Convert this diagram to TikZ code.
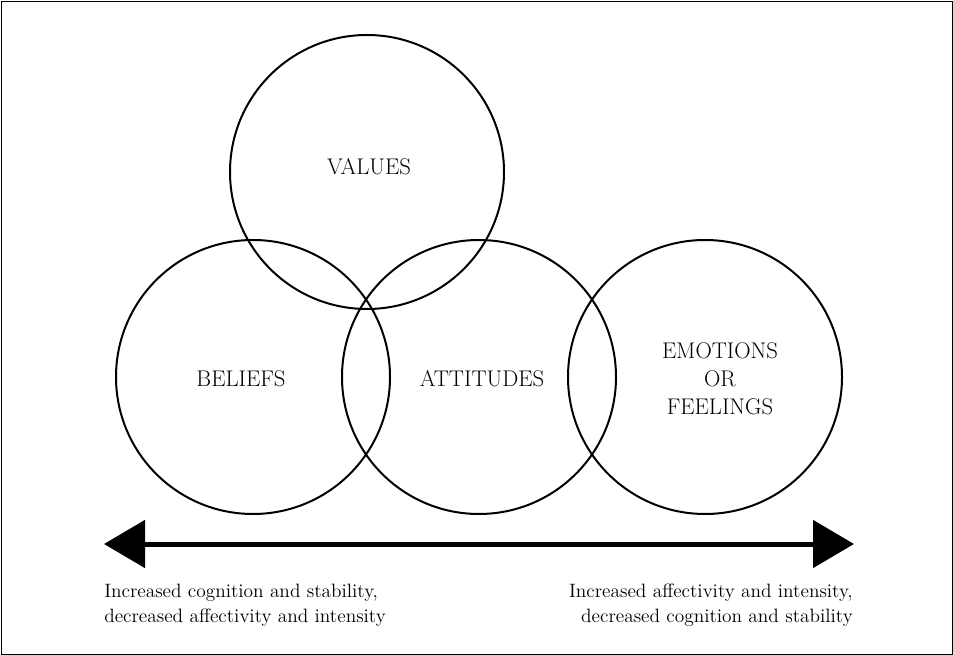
\documentclass[tikz,border=0pt]{standalone}
\usetikzlibrary{arrows.meta}
\tikzset{
  ring/.style={line width=1.5pt},
  caption/.style={font=\fontsize{17}{21}\selectfont, inner sep=0pt},
  note/.style={font=\fontsize{14.5}{18.75}\selectfont, inner sep=0pt},
  bigtip/.style={line width=3.75pt, {Triangle[length=30.75pt,width=35.25pt]}-{Triangle[length=30.75pt,width=35.25pt]}},
}
\begin{document}
\begin{tikzpicture}[x=0.75pt,y=-0.75pt]
  \useasboundingbox (0,0) rectangle (953,655);
  \draw [thin] (1,1) rectangle (952,654);
  % four overlapping sets
  \foreach \cx/\cy in {367/172, 253/377, 479/377, 705/377}
    \draw [ring] (\cx,\cy) circle[radius=102.75pt];
  \node [caption] (values) at (369,167) {VALUES};
  \node [caption] (beliefs) at (241,379) {BELIEFS};
  \node [caption] (attitudes) at (482,379) {ATTITUDES};
  \node [caption, align=center] (emotions) at (720,379) {EMOTIONS\\OR\\FEELINGS};
  % the scale underneath
  \coordinate (cog) at (104,544);
  \coordinate (aff) at (854,544);
  \draw [bigtip] (cog) -- (aff);
  \node [note, anchor=north west, align=left] (left) at (104,584)
    {Increased cognition and stability,\\decreased affectivity and intensity};
  \node [note, anchor=north east, align=right] (right) at (853,584)
    {Increased affectivity and intensity,\\decreased cognition and stability};
\end{tikzpicture}
\end{document}
